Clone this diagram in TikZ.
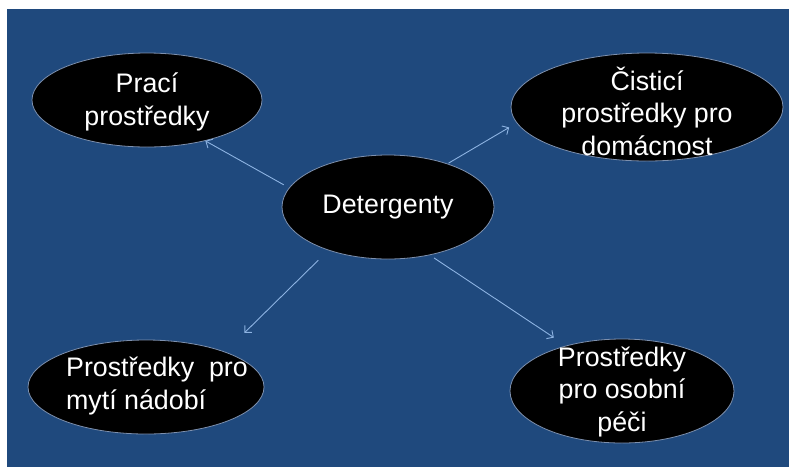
\documentclass[tikz,border=0pt]{standalone}
\usepackage{fontspec}
\setmainfont{Liberation Sans}
\usetikzlibrary{shapes.geometric, arrows.meta}

\definecolor{slideblue}{HTML}{1F497D}
\definecolor{linkblue}{HTML}{8DB3E2}
\definecolor{rimgray}{HTML}{7D90AE}

\tikzset{
	bubble/.style = {ellipse, draw = rimgray, line width = 0.8pt, fill = black, inner sep = 0pt},
	words/.style = {text = white, align = center, inner sep = 0pt, font = \fontsize{26.8}{32.5}\selectfont},
	link/.style = {-{Straight Barb[length = 5pt, width = 10pt]}, draw = linkblue, line width = 0.9pt}
}

\begin{document}
\begin{tikzpicture}[x = 1pt, y = -1pt]
	
		\useasboundingbox (0, 0) rectangle (789, 467);
		\fill[white] (0, 0) rectangle (789, 467);
		\fill[slideblue] (7, 9) rectangle (789, 467);
		
		\node[bubble, minimum width = 212pt, minimum height = 104pt] (det) at (388, 207) {};
		\node[bubble, minimum width = 230pt, minimum height = 94pt] (praci) at (147, 100) {};
		\node[bubble, minimum width = 272pt, minimum height = 108pt] (cist) at (647, 107) {};
		\node[bubble, minimum width = 236pt, minimum height = 94pt] (myti) at (146, 387) {};
		\node[bubble, minimum width = 224pt, minimum height = 104pt] (peci) at (622, 391) {};
		
		\node[words] (det-t) at (388, 207) {Detergenty};
		\node[words] (praci-t) at (147, 102) {Prací\\prostředky};
		\node[words] (cist-t) at (647, 111) {Čisticí\\prostředky pro\\domácnost};
		\node[words, align = left] (myti-t) at (157, 386) {Prostředky~ pro\\mytí nádobí};
		\node[words] (peci-t) at (622, 392) {Prostředky\\pro osobní\\péči};
		
		\draw[link, shorten <= 6pt] (det.169.3) -- (praci.-35.7);
		\draw[link, shorten <= 1pt, shorten >= 8.7pt] (det.36.9) -- (cist.187.4);
		\draw[link, shorten <= 14pt, shorten >= 27pt] (det.216.6) -- (myti.24.4);
		\draw[link, shorten <= 5pt, shorten >= 14.5pt] (det.-49.8) -- (peci.141.2);
	
	\end{tikzpicture}
\end{document}
